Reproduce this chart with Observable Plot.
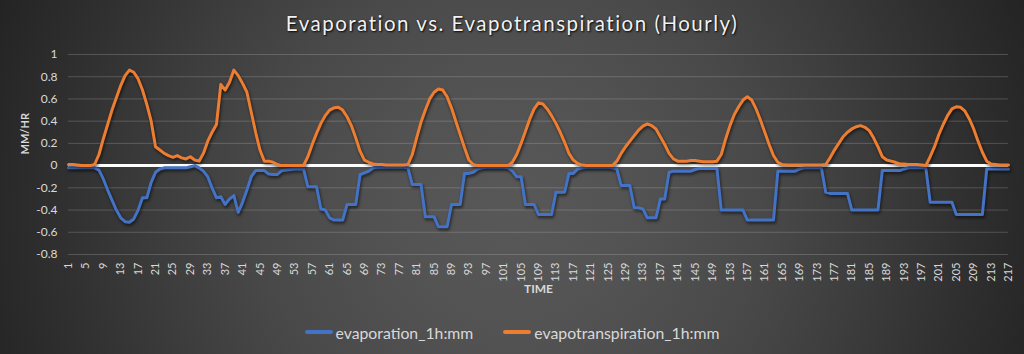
<!DOCTYPE html>
<html>
<head>
<meta charset="utf-8">
<script src="https://cdn.jsdelivr.net/npm/d3@7"></script>
<script src="https://cdn.jsdelivr.net/npm/@observablehq/plot@0.6"></script>
<style>
  html, body { margin: 0; padding: 0; }
  body {
    width: 1024px; height: 354px; overflow: hidden;
    background: radial-gradient(circle 580px at 512px 210px, #585858 0px, #535353 120px, #494949 250px, #3d3d3d 350px, #303030 450px, #232323 560px, #202020 580px);
    font-family: Lato, "Open Sans", sans-serif;
  }
  #title {
    height: 40px; line-height: 46px; text-align: center;
    color: #f2f2f2; font-size: 20.5px; letter-spacing: 1.5px;
    text-shadow: 1px 1px 2px rgba(0,0,0,0.9), 0 0 1px rgba(0,0,0,0.6);
  }
  #chart svg { display: block; overflow: visible; }
  #chart g[aria-label="line"] path { filter: drop-shadow(1px 2px 1.5px rgba(0,0,0,0.6)); }
  #legend {
    height: 44px; display: flex; justify-content: center; align-items: center;
    color: #d9d9d9; font-size: 15.8px; gap: 30px;
  }
  .item { display: flex; align-items: center; }
  .sw { width: 28px; height: 4px; border-radius: 2px; margin-right: 3px; }
</style>
</head>
<body>
<div id="title">Evaporation vs. Evapotranspiration (Hourly)</div>
<div id="chart"></div>
<div id="legend"></div>
<script>
// Hourly values (mm), hours 1..217
const evapotranspiration = [
  0.01,0.01,0.005,0,0,0,0.01,0.1,0.24,0.37,
  0.5,0.61,0.72,0.81,0.86,0.84,0.78,0.68,0.55,0.4,
  0.17,0.14,0.11,0.09,0.075,0.09,0.07,0.06,0.08,0.05,
  0.04,0.11,0.22,0.3,0.37,0.73,0.68,0.75,0.86,0.81,
  0.74,0.66,0.48,0.3,0.14,0.04,0.04,0.03,0.01,0,
  0,0,0,0,0,0.08,0.19,0.29,0.38,0.45,
  0.5,0.52,0.525,0.5,0.44,0.36,0.25,0.13,0.05,0.03,
  0.015,0.01,0.01,0.005,0.005,0.005,0.005,0.005,0.01,0.1,
  0.25,0.39,0.5,0.6,0.66,0.69,0.68,0.62,0.52,0.4,
  0.28,0.16,0.05,0.01,0,0,0,0,0,0,
  0,0,0.03,0.1,0.2,0.31,0.42,0.51,0.565,0.555,
  0.51,0.45,0.38,0.3,0.21,0.11,0.05,0.02,0.005,0,
  0,0,0,0,0,0,0.04,0.11,0.17,0.22,
  0.27,0.32,0.355,0.375,0.36,0.33,0.26,0.19,0.11,0.06,
  0.04,0.04,0.04,0.045,0.045,0.04,0.035,0.035,0.035,0.04,
  0.1,0.24,0.36,0.46,0.53,0.59,0.62,0.59,0.51,0.41,
  0.3,0.19,0.09,0.03,0.01,0.005,0.005,0.005,0.005,0.005,
  0.005,0.005,0.005,0.005,0.01,0.07,0.14,0.2,0.26,0.3,
  0.33,0.35,0.36,0.345,0.315,0.25,0.17,0.08,0.05,0.04,
  0.03,0.015,0.015,0.01,0.01,0.01,0.005,0,0.08,0.17,
  0.28,0.37,0.45,0.51,0.53,0.525,0.49,0.42,0.33,0.22,
  0.12,0.04,0.015,0.01,0.005,0.005,0.005
];
const evaporation = [
  -0.02,-0.02,-0.02,-0.02,-0.02,-0.02,-0.02,-0.04,-0.12,-0.22,
  -0.31,-0.4,-0.47,-0.505,-0.51,-0.48,-0.4,-0.29,-0.29,-0.15,
  -0.06,-0.03,-0.02,-0.02,-0.02,-0.02,-0.02,-0.02,-0.01,0,
  -0.02,-0.05,-0.1,-0.2,-0.29,-0.28,-0.35,-0.3,-0.27,-0.42,
  -0.33,-0.22,-0.1,-0.045,-0.045,-0.045,-0.075,-0.08,-0.08,-0.045,
  -0.04,-0.035,-0.03,-0.03,-0.03,-0.19,-0.19,-0.19,-0.39,-0.4,
  -0.47,-0.49,-0.49,-0.49,-0.35,-0.35,-0.35,-0.08,-0.065,-0.05,
  -0.02,-0.015,-0.015,-0.015,-0.015,-0.015,-0.015,-0.015,-0.02,-0.17,
  -0.17,-0.17,-0.46,-0.46,-0.46,-0.55,-0.55,-0.55,-0.35,-0.35,
  -0.35,-0.07,-0.07,-0.06,-0.03,-0.02,-0.015,-0.015,-0.015,-0.015,
  -0.015,-0.02,-0.05,-0.1,-0.1,-0.35,-0.35,-0.35,-0.44,-0.44,
  -0.44,-0.44,-0.24,-0.24,-0.24,-0.07,-0.07,-0.03,-0.02,-0.015,
  -0.015,-0.015,-0.015,-0.015,-0.015,-0.02,-0.03,-0.18,-0.18,-0.18,
  -0.38,-0.38,-0.39,-0.47,-0.47,-0.47,-0.3,-0.3,-0.06,-0.05,
  -0.05,-0.05,-0.05,-0.05,-0.035,-0.025,-0.025,-0.025,-0.025,-0.025,
  -0.4,-0.4,-0.4,-0.4,-0.4,-0.4,-0.49,-0.49,-0.49,-0.49,
  -0.49,-0.49,-0.49,-0.05,-0.05,-0.05,-0.05,-0.05,-0.03,-0.02,
  -0.02,-0.02,-0.02,-0.02,-0.24,-0.25,-0.25,-0.25,-0.25,-0.25,
  -0.4,-0.4,-0.4,-0.4,-0.4,-0.4,-0.4,-0.045,-0.045,-0.045,
  -0.045,-0.045,-0.03,-0.02,-0.02,-0.02,-0.02,-0.02,-0.33,-0.33,
  -0.33,-0.33,-0.33,-0.33,-0.44,-0.44,-0.44,-0.44,-0.44,-0.44,
  -0.44,-0.03,-0.03,-0.03,-0.03,-0.03,-0.03
];
const xTickLabels = [1,5,9,13,17,21,25,29,33,37,41,45,49,53,57,61,65,69,73,77,81,85,89,93,97,101,105,109,113,117,121,125,129,133,137,141,145,149,153,157,161,165,169,173,177,181,185,189,193,197,201,205,209,213,217];
const yTickLabels = [-0.8,-0.6,-0.4,-0.2,0,0.2,0.4,0.6,0.8,1];
const seriesNames = ["evaporation_1h:mm", "evapotranspiration_1h:mm"];
const seriesColors = ["#4472c4", "#ed7d31"];
const xTitle = "TIME";
const yTitle = "MM/HR";

const hour = (d, i) => i + 1;
const fmt = d => String(+d.toFixed(1));

const chart = Plot.plot({
  width: 1024,
  height: 270,
  marginTop: 14,
  marginBottom: 56,
  marginLeft: 68,
  marginRight: 16,
  style: {background: "transparent", color: "#d9d9d9", fontFamily: "Lato, 'Open Sans', sans-serif", fontSize: "11.5px"},
  x: {domain: [1, 217]},
  y: {domain: [-0.8, 1]},
  marks: [
    Plot.gridY(yTickLabels, {stroke: "#d9d9d9", strokeOpacity: 0.22, strokeWidth: 1}),
    Plot.ruleY([0], {stroke: "#ffffff", strokeWidth: 3}),
    Plot.lineY(evaporation, {x: hour, y: d => d, stroke: seriesColors[0], strokeWidth: 3, strokeLinejoin: "round"}),
    Plot.lineY(evapotranspiration, {x: hour, y: d => d, stroke: seriesColors[1], strokeWidth: 3, strokeLinejoin: "round"}),
    Plot.axisX(xTickLabels, {tickRotate: -90, tickSize: 0, tickPadding: 8, label: null, tickFormat: d => String(d), fontSize: 11}),
    Plot.axisY(yTickLabels, {tickSize: 0, tickPadding: 11, label: null, tickFormat: fmt, fontSize: 12}),
    Plot.text([yTitle], {frameAnchor: "left", dx: -43, rotate: -90, fontWeight: "bold", fontSize: 11, fill: "#d9d9d9"}),
    Plot.text([xTitle], {frameAnchor: "bottom", dy: 38, fontWeight: "bold", fontSize: 12, fill: "#d9d9d9"})
  ]
});
document.getElementById("chart").appendChild(chart);

const legend = d3.select("#legend");
seriesNames.forEach((name, i) => {
  const it = legend.append("div").attr("class", "item");
  it.append("div").attr("class", "sw").style("background", seriesColors[i]);
  it.append("span").text(name);
});
</script>
</body>
</html>
